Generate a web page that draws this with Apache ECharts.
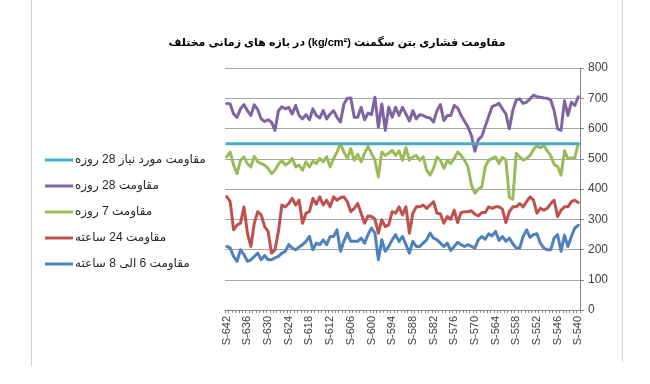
<!DOCTYPE html>
<html>
<head>
<meta charset="utf-8">
<script src="https://cdn.jsdelivr.net/npm/echarts@6/dist/echarts.min.js"></script>
<style>
html,body{margin:0;padding:0;background:#fff;}
#chart{width:650px;height:384px;}
</style>
</head>
<body>
<div id="chart"></div>
<script>
// Categories: S-642 ... S-540
const categories = [];
for (let n = 642; n >= 540; n--) categories.push('S-' + n);

const titleText = 'مقاومت فشاری بتن سگمنت (kg/cm²) در بازه های زمانی مختلف';
const seriesNames = [
  'مقاومت مورد نیاز 28 روزه',
  'مقاومت 28 روزه',
  'مقاومت 7 روزه',
  'مقاومت 24 ساعته',
  'مقاومت 6 الی 8 ساعته'
];
const yTicks = [0, 100, 200, 300, 400, 500, 600, 700, 800];

const required28 = categories.map(() => 550);

const day28 = [
  683,681,648,637,665,679,659,643,678,662,
  632,623,629,621,594,659,672,665,670,648,
  676,643,632,646,629,665,643,635,659,632,
  648,659,637,621,681,700,701,637,637,670,
  629,651,646,703,605,681,594,670,637,670,
  643,670,648,625,659,632,646,643,637,635,
  621,659,679,626,643,643,676,668,643,624,
  605,577,525,563,574,607,640,672,677,683,
  665,648,599,659,694,698,683,687,698,710,
  705,703,701,700,694,659,599,594,692,643,
  687,676,705
];

const day7 = [
  506,522,479,451,495,506,484,473,508,490,
  484,479,468,451,462,482,495,479,487,501,
  473,479,462,490,473,492,484,501,490,506,
  473,501,522,550,522,501,533,495,515,490,
  518,541,518,495,440,522,511,518,528,511,
  526,495,537,495,506,511,495,506,462,446,
  468,506,495,468,495,484,501,522,511,495,
  473,413,386,400,407,473,495,501,506,484,
  504,495,372,366,518,506,495,501,511,530,
  544,536,544,526,511,481,474,446,526,501,
  503,504,550
];

const hour24 = [
  375,358,265,281,287,341,254,210,287,325,
  314,276,260,188,199,260,347,341,352,369,
  347,363,287,320,325,369,350,374,347,363,
  341,374,363,371,374,358,325,336,352,320,
  287,311,309,300,254,298,276,281,325,320,
  341,314,341,254,320,341,341,347,336,347,
  358,320,318,287,309,300,330,289,322,325,
  325,328,317,311,322,322,341,336,341,341,
  333,289,325,341,341,352,341,358,374,363,
  320,336,330,336,352,363,309,330,341,341,
  358,363,355
];

const hour6to8 = [
  210,205,177,161,199,183,161,166,177,188,
  166,180,166,166,172,177,188,194,216,205,
  199,208,216,227,243,199,221,216,232,216,
  243,243,265,194,227,254,227,227,227,238,
  221,249,271,254,166,232,194,210,232,249,
  227,243,216,188,227,210,210,221,232,254,
  238,232,221,210,221,197,210,224,216,210,
  216,210,205,232,243,234,252,245,260,230,
  243,227,238,219,205,205,243,265,240,249,
  252,221,205,199,199,238,249,194,247,210,
  243,271,280
];

const colors = ['#4bacc6', '#8064a2', '#9bbb59', '#c0504d', '#4f81bd'];
const seriesData = [required28, day28, day7, hour24, hour6to8];

const font = '"Liberation Sans", "DejaVu Sans", Arial, sans-serif';

const chart = echarts.init(document.getElementById('chart'), null, {renderer: 'canvas'});
chart.setOption({
  animation: false,
  backgroundColor: '#ffffff',
  title: {
    text: '\u202B' + titleText + '\u202C',
    left: 332,
    textAlign: 'center',
    top: 32,
    textStyle: {fontFamily: font, fontSize: 11, fontWeight: 'bold', color: '#000'}
  },
  graphic: [
    {type: 'line', shape: {x1: 31.5, y1: 0, x2: 31.5, y2: 366}, style: {stroke: '#d0d0d0', lineWidth: 1}},
    {type: 'line', shape: {x1: 622.5, y1: 0, x2: 622.5, y2: 362}, style: {stroke: '#d0d0d0', lineWidth: 1}}
  ],
  legend: {
    orient: 'vertical',
    left: 40,
    top: 148,
    itemWidth: 28,
    itemHeight: 3,
    itemGap: 12,
    icon: 'rect',
    data: seriesNames,
    textStyle: {fontFamily: font, fontSize: 12, lineHeight: 14, color: '#262626', padding: [0, 0, 0, -3]}
  },
  grid: {left: 225, right: 70, top: 68, bottom: 74},
  xAxis: {
    type: 'category',
    data: categories,
    boundaryGap: true,
    axisLine: {lineStyle: {color: '#868686', width: 1}},
    axisTick: {show: true, interval: 0, length: 3, lineStyle: {color: '#868686'}},
    axisLabel: {interval: 5, rotate: 90, fontFamily: font, fontSize: 11, color: '#404040', margin: 6}
  },
  yAxis: {
    type: 'value',
    position: 'right',
    min: yTicks[0],
    max: yTicks[yTicks.length - 1],
    interval: 100,
    axisLine: {show: true, lineStyle: {color: '#868686', width: 1}},
    axisTick: {show: true, length: 4, lineStyle: {color: '#868686'}},
    axisLabel: {fontFamily: font, fontSize: 12, color: '#404040', margin: 8},
    splitLine: {lineStyle: {color: '#a6a6a6', width: 1}}
  },
  series: seriesNames.map((name, k) => ({
    name: name,
    type: 'line',
    data: seriesData[k],
    symbol: 'none',
    color: colors[k],
    lineStyle: {width: 3, color: colors[k], cap: 'round', join: 'round'},
    z: k === 0 ? 3 : 2
  }))
});
</script>
</body>
</html>
